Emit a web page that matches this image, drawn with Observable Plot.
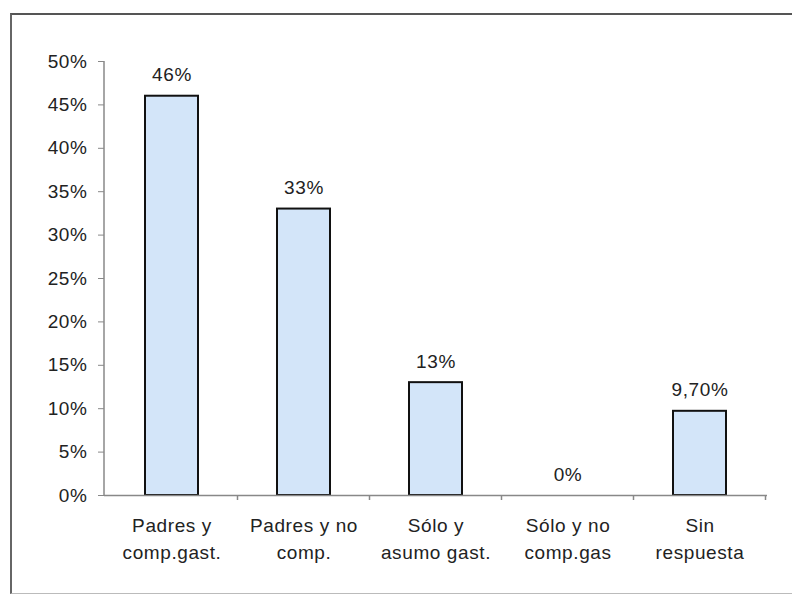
<!DOCTYPE html>
<html>
<head>
<meta charset="utf-8">
<script src="https://cdn.jsdelivr.net/npm/d3@7"></script>
<script src="https://cdn.jsdelivr.net/npm/@observablehq/plot@0.6"></script>
<style>
  html, body { margin: 0; padding: 0; background: #fff; }
  #wrap { position: relative; width: 792px; height: 594px; overflow: hidden; }
  #frame { position: absolute; left: 10px; top: 13px; width: 800px; height: 578px;
           border-left: 2px solid #666; border-top: 2px solid #555; border-bottom: 1px solid #bbb; }
  #chart { position: absolute; left: 0; top: 0; }
  [aria-label="y-axis tick"] { stroke: #888; }
</style>
</head>
<body>
<div id="wrap"><div id="frame"></div><div id="chart"></div></div>
<script>
const categories = ["Padres y\ncomp.gast.", "Padres y no\ncomp.", "Sólo y\nasumo gast.", "Sólo y no\ncomp.gas", "Sin\nrespuesta"];
const values = [46, 33, 13, 0, 9.7];
const valueLabels = ["46%", "33%", "13%", "0%", "9,70%"];
const yTicks = [0, 5, 10, 15, 20, 25, 30, 35, 40, 45, 50];
const yTickLabels = ["0%", "5%", "10%", "15%", "20%", "25%", "30%", "35%", "40%", "45%", "50%"];

const data = categories.map((c, i) => ({cat: c, value: values[i], label: valueLabels[i]}));

function axisDecor(index, scales, vals, dims) {
  const {x, y} = scales;
  const step = x(categories[1]) - x(categories[0]);
  const bw = x.bandwidth ? x.bandwidth() : step * 0.4;
  const g = d3.create("svg:g");
  const bounds = categories.map(c => x(c) - (step - bw) / 2);
  bounds.push(bounds[bounds.length - 1] + step);
  const y0 = y(0);
  g.append("line").attr("x1", dims.marginLeft).attr("x2", dims.marginLeft)
    .attr("y1", y(0)).attr("y2", y(50)).attr("stroke", "#888").attr("stroke-width", 1.5);
  bounds.slice(1).forEach(b => {
    g.append("line").attr("x1", b).attr("x2", b).attr("y1", y0).attr("y2", y0 + 5)
      .attr("stroke", "#888").attr("stroke-width", 1.5);
  });
  return g.node();
}

const chart = Plot.plot({
  width: 792,
  height: 594,
  marginLeft: 104,
  marginRight: 25,
  marginTop: 61,
  marginBottom: 99,
  style: {fontFamily: "'Liberation Sans', Arial, sans-serif", fontSize: "19px", color: "#222", background: "transparent", letterSpacing: "0.6px"},
  x: {domain: categories, paddingInner: 0.6, paddingOuter: 0.3, axis: null},
  y: {domain: [0, 50], ticks: yTicks, tickFormat: d => yTickLabels[yTicks.indexOf(d)], tickSize: 6, tickPadding: 11, label: null},
  marks: [
    Plot.barY(data, {x: "cat", y: "value", fill: "#d3e5f9", stroke: "#111", strokeWidth: 2}),
    Plot.ruleY([0], {stroke: "#888", strokeWidth: 1.5}),
    axisDecor,
    Plot.text(data, {x: "cat", y: "value", text: "label", dy: -21, lineAnchor: "middle", fill: "#222"}),
    Plot.text(data, {x: "cat", text: "cat", frameAnchor: "bottom", lineAnchor: "top", dy: 18, lineHeight: 1.4, fill: "#222"})
  ]
});
document.getElementById("chart").appendChild(chart);
</script>
</body>
</html>
